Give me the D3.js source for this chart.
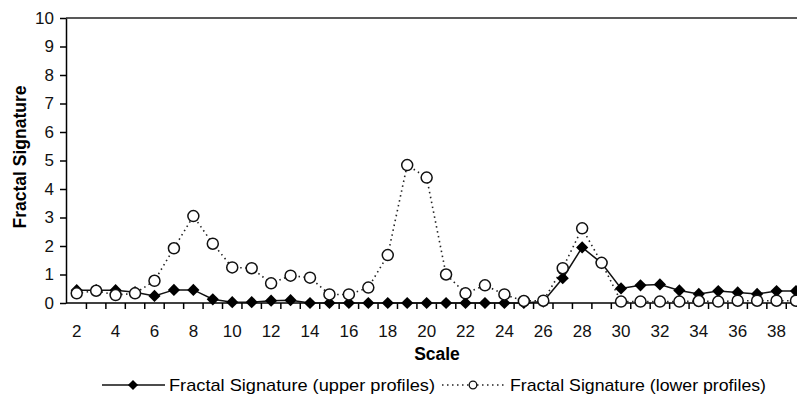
<!DOCTYPE html>
<html>
<head>
<meta charset="utf-8">
<script src="https://cdn.jsdelivr.net/npm/d3@7/dist/d3.min.js"></script>
<style>
  body { margin: 0; background: #fff; }
  svg { display: block; font-family: Arial, "Liberation Sans", sans-serif; }
  .axis path, .axis line { stroke: #000; }
</style>
</head>
<body>
<div id="chart"></div>
<script>
// Scale categories 2..39
var scales = [2, 3, 4, 5, 6, 7, 8, 9, 10, 11, 12, 13, 14, 15, 16, 17, 18, 19, 20,
  21, 22, 23, 24, 25, 26, 27, 28, 29, 30, 31, 32, 33, 34, 35, 36, 37, 38, 39];

// Fractal Signature (upper profiles)
var upperValues = [0.45, 0.45, 0.45, 0.38, 0.25, 0.46, 0.46, 0.13, 0.03, 0.03, 0.08, 0.1, 0.0,
  0.0, 0.0, 0.0, 0.0, 0.0, 0.0, 0.0, 0.0, 0.0, 0.0, 0.0, 0.05, 0.87, 1.95, 1.4, 0.51, 0.62,
  0.65, 0.44, 0.32, 0.42, 0.37, 0.32, 0.42, 0.42];

// Fractal Signature (lower profiles)
var lowerValues = [0.34, 0.43, 0.28, 0.34, 0.78, 1.92, 3.05, 2.08, 1.25, 1.22, 0.69, 0.96, 0.89,
  0.3, 0.3, 0.54, 1.68, 4.84, 4.4, 1.0, 0.34, 0.62, 0.3, 0.07, 0.08, 1.22, 2.62, 1.41, 0.05,
  0.05, 0.05, 0.05, 0.07, 0.05, 0.08, 0.08, 0.08, 0.08];

var yTicks = [0, 1, 2, 3, 4, 5, 6, 7, 8, 9, 10];
var xLabels = scales.filter(function (d) { return d % 2 === 0; });

var width = 797, height = 397;
var plot = { left: 67, top: 18, bottom: 303, step: 19.44 };

var svg = d3.select('#chart').append('svg')
  .attr('width', width)
  .attr('height', height);

var x = d3.scaleBand()
  .domain(scales)
  .range([plot.left, plot.left + scales.length * plot.step])
  .padding(0);

var y = d3.scaleLinear()
  .domain([0, 10])
  .range([plot.bottom, plot.top]);

function cx(d) { return x(d) + x.bandwidth() / 2; }

// top border of plot area
svg.append('line')
  .attr('x1', plot.left - 1).attr('x2', width)
  .attr('y1', y(10)).attr('y2', y(10))
  .attr('stroke', '#222').attr('stroke-width', 1.5);

// y axis
var yAxis = svg.append('g')
  .attr('class', 'axis')
  .attr('transform', 'translate(' + (plot.left - 1) + ',0)')
  .call(d3.axisLeft(y).tickValues(yTicks).tickSize(6).tickSizeOuter(0).tickPadding(6));
yAxis.select('.domain').attr('stroke-width', 1.5);
yAxis.selectAll('.tick line').attr('stroke-width', 1.5);
yAxis.selectAll('text').attr('font-size', 17).attr('fill', '#111')
  .attr('font-family', 'Arial, "Liberation Sans", sans-serif');

// x axis: labels at every other category, tick marks between categories
var xAxis = svg.append('g')
  .attr('class', 'axis')
  .attr('transform', 'translate(0,' + plot.bottom + ')')
  .call(d3.axisBottom(x).tickValues(xLabels).tickSize(0).tickPadding(22));
xAxis.select('.domain').remove();
xAxis.selectAll('text').attr('font-size', 17).attr('fill', '#111')
  .attr('font-family', 'Arial, "Liberation Sans", sans-serif');

svg.append('line')
  .attr('x1', plot.left - 1).attr('x2', width)
  .attr('y1', plot.bottom).attr('y2', plot.bottom)
  .attr('stroke', '#000').attr('stroke-width', 1.5);

svg.append('g').selectAll('line')
  .data(scales.slice(1))
  .enter().append('line')
  .attr('x1', function (d) { return x(d); })
  .attr('x2', function (d) { return x(d); })
  .attr('y1', plot.bottom)
  .attr('y2', plot.bottom + 6)
  .attr('stroke', '#000').attr('stroke-width', 1.5);

// axis titles
svg.append('text')
  .attr('x', 437).attr('y', 360)
  .attr('text-anchor', 'middle')
  .attr('font-size', 17.5).attr('font-weight', 'bold')
  .text('Scale');

svg.append('text')
  .attr('transform', 'translate(26,157) rotate(-90)')
  .attr('text-anchor', 'middle')
  .attr('font-size', 17.5).attr('font-weight', 'bold')
  .text('Fractal Signature');

// series
var upper = scales.map(function (d, i) { return { s: d, v: upperValues[i] }; });
var lower = scales.map(function (d, i) { return { s: d, v: lowerValues[i] }; });

var line = d3.line()
  .x(function (d) { return cx(d.s); })
  .y(function (d) { return y(d.v); });

svg.append('path')
  .datum(upper)
  .attr('d', line)
  .attr('fill', 'none')
  .attr('stroke', '#111')
  .attr('stroke-width', 1.5);

svg.append('path')
  .datum(lower)
  .attr('d', line)
  .attr('fill', 'none')
  .attr('stroke', '#222')
  .attr('stroke-width', 1.6)
  .attr('stroke-dasharray', '1.5,3.5');

// square diamond markers, ~12px across
var diamond = d3.symbol().type(d3.symbolDiamond2).size(95);

svg.append('g').selectAll('path')
  .data(upper)
  .enter().append('path')
  .attr('d', diamond)
  .attr('transform', function (d) { return 'translate(' + cx(d.s) + ',' + y(d.v) + ')'; })
  .attr('fill', '#000');

svg.append('g').selectAll('circle')
  .data(lower)
  .enter().append('circle')
  .attr('cx', function (d) { return cx(d.s); })
  .attr('cy', function (d) { return y(d.v); })
  .attr('r', 5.5)
  .attr('fill', '#fff')
  .attr('stroke', '#111')
  .attr('stroke-width', 1.5);

// legend
var legend = svg.append('g').attr('transform', 'translate(0,385)');

legend.append('line')
  .attr('x1', 102).attr('x2', 165).attr('y1', 0).attr('y2', 0)
  .attr('stroke', '#111').attr('stroke-width', 1.5);
legend.append('path')
  .attr('d', d3.symbol().type(d3.symbolDiamond2).size(65))
  .attr('transform', 'translate(133,0)')
  .attr('fill', '#000');
legend.append('text')
  .attr('x', 169).attr('y', 6)
  .attr('font-size', 17)
  .attr('textLength', 266).attr('lengthAdjust', 'spacingAndGlyphs')
  .text('Fractal Signature (upper profiles)');

legend.append('line')
  .attr('x1', 442).attr('x2', 505).attr('y1', 0).attr('y2', 0)
  .attr('stroke', '#222').attr('stroke-width', 1.5)
  .attr('stroke-dasharray', '1.5,3.5');
legend.append('circle')
  .attr('cx', 473).attr('cy', 0).attr('r', 3.8)
  .attr('fill', '#fff').attr('stroke', '#111').attr('stroke-width', 1.3);
legend.append('text')
  .attr('x', 510).attr('y', 6)
  .attr('font-size', 17)
  .attr('textLength', 256).attr('lengthAdjust', 'spacingAndGlyphs')
  .text('Fractal Signature (lower profiles)');
</script>
</body>
</html>
